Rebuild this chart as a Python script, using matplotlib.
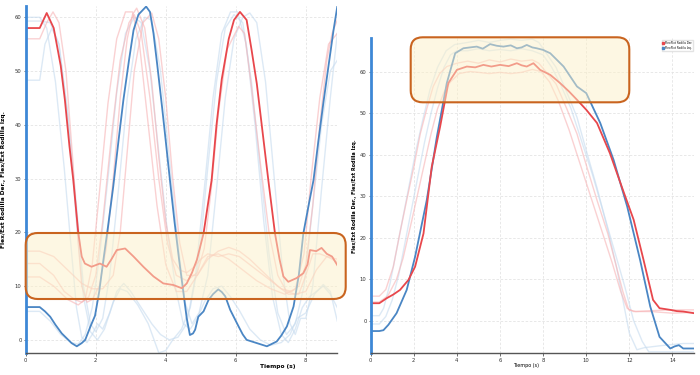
import matplotlib
matplotlib.use("Agg")
import matplotlib.pyplot as plt
from matplotlib.patches import FancyBboxPatch
from matplotlib.lines import Line2D

# ---------------- data: left chart ----------------
left_red_t = [0, 0.4, 0.6, 0.8, 1.0, 1.12, 1.25, 1.36, 1.5, 1.6, 1.69, 1.88, 2.12, 2.31, 2.45, 2.6, 2.84,
              3.08, 3.36, 3.65, 3.93, 4.22, 4.46, 4.6, 4.75, 4.89, 5.08, 5.2, 5.31, 5.45, 5.6, 5.8, 5.95,
              6.12, 6.31, 6.45, 6.6, 6.93, 7.12, 7.25, 7.36, 7.5, 7.74, 7.93, 8.05, 8.12, 8.3, 8.45, 8.6,
              8.75, 8.9]
left_red_v = [58, 58, 60.8, 58, 51, 44.6, 36, 29.7, 20, 15.5, 14.2, 13.6, 14.2, 13.6, 15, 16.7, 17.0,
              15.5, 13.6, 11.8, 10.5, 10.2, 9.6, 10.5, 12.5, 14.9, 19.8, 25, 29.7, 40, 48.5, 56, 59.5,
              61.0, 59.5, 54, 47.7, 29.7, 19.8, 15, 11.8, 10.8, 11.5, 12.4, 14, 16.7, 16.5, 17.1, 16.0,
              15.5, 13.9]

left_blue_t = [0, 0.4, 0.55, 0.7, 0.85, 1.03, 1.17, 1.31, 1.46, 1.6, 1.7, 1.85, 1.98, 2.1, 2.22, 2.35,
               2.5, 2.65, 2.79, 2.95, 3.08, 3.22, 3.44, 3.55, 3.65, 3.76, 3.9, 4.0, 4.12, 4.25, 4.38,
               4.5, 4.6, 4.69, 4.78, 4.84, 4.93, 5.08, 5.22, 5.35, 5.5, 5.6, 5.7, 5.84, 6.08, 6.2, 6.31,
               6.6, 6.89, 7.17, 7.3, 7.46, 7.65, 7.8, 7.93, 8.08, 8.22, 8.36, 8.5, 8.65, 8.79, 8.9]
left_blue_v = [6.1, 6.1, 5.3, 4.3, 2.8, 1.2, 0.3, -0.6, -1.2, -0.6, 0, 2.5, 4.5, 9, 14.9, 21,
               28.5, 37, 44.6, 52, 57.6, 60.5, 62, 61, 57, 51, 43, 37, 29.7, 22, 15,
               9, 4, 0.9, 1.2, 1.9, 4.3, 5.3, 7.4, 8.5, 9.4, 8.9, 8.1, 5.6, 2.5, 1, 0,
               -0.6, -1.2, -0.3, 0.8, 2.5, 6.2, 12, 19.8, 25, 29.7, 37, 44, 51, 57.5, 62]

left_faint_red_t = [
    [0, 0.4, 0.6, 0.78, 0.95, 1.15, 1.35, 1.5, 1.6, 1.75, 1.9, 2.1, 2.3, 2.5, 2.7, 2.9, 3.05, 3.17,
     3.4, 3.6, 3.8, 4.0, 4.2, 4.4, 4.6, 4.8, 5.0, 5.2, 5.5, 5.8, 6.1, 6.4, 6.7, 7.0, 7.3, 7.6, 7.8,
     8.0, 8.2, 8.4, 8.6, 8.75, 8.9],
    [0, 0.4, 0.8, 1.2, 1.6, 1.9, 2.2, 2.5, 2.7, 2.9, 3.1, 3.35, 3.6, 3.8, 4.0, 4.2, 4.4, 4.6, 4.9,
     5.2, 5.5, 5.8, 6.1, 6.4, 6.8, 7.2, 7.5, 7.8, 8.0, 8.2, 8.4, 8.6, 8.9],
    [0, 0.4, 0.8, 1.1, 1.4, 1.6, 1.8, 2.0, 2.2, 2.45, 2.7, 2.95, 3.1, 3.3, 3.55, 3.8, 4.05, 4.3,
     4.6, 4.9, 5.1, 5.3, 5.5, 5.75, 6.08, 6.25, 6.45, 6.7, 6.95, 7.2, 7.45, 7.7, 8.0, 8.3, 8.6, 8.9],
    [0, 0.4, 0.8, 1.2, 1.5, 1.7, 1.9, 2.1, 2.35, 2.6, 2.85, 3.05, 3.25, 3.5, 3.75, 4.0, 4.3, 4.6,
     4.9, 5.2, 5.5, 5.8, 6.2, 6.6, 7.0, 7.4, 7.7, 7.95, 8.15, 8.4, 8.65, 8.9],
]
left_faint_red_v = [
    [56, 56, 59, 61, 59, 50, 33, 18, 10, 7, 7.5, 10, 17, 30, 45, 56, 60.5, 61.7,
     58, 48, 34, 22, 15, 13, 12.5, 13.5, 15, 16, 15.5, 16, 15.5, 14, 12.5, 11, 9.5, 9, 10,
     14, 25, 40, 52, 57, 59.5],
    [16.5, 16.5, 15.5, 13, 10.5, 9.5, 9.5, 12, 20, 35, 50, 59, 60.8, 56, 45, 30, 18, 12, 12,
     15, 16.5, 17.2, 16.5, 15, 12.5, 10, 8.5, 8.5, 12, 16, 16, 15.5, 14.5],
    [14.2, 14.2, 12, 9, 7.5, 7, 8, 12, 22, 38, 52, 59, 60.5, 57, 45, 30, 18, 12,
     11, 12.5, 17, 28, 42, 54, 58.3, 57, 47, 33, 20, 12, 9, 8.5, 9, 13, 15.5, 15],
    [11.7, 11.7, 10, 7.5, 6.5, 7.5, 14, 27, 44, 56, 61, 61, 55, 40, 25, 14, 9, 9,
     12, 15.5, 16, 15, 13, 11, 9.5, 8.5, 9.5, 16, 30, 45, 55, 57],
]

left_faint_blue_t = [
    [0, 0.4, 0.6, 0.85, 1.1, 1.3, 1.45, 1.6, 1.75, 1.9, 2.05, 2.2, 2.4, 2.6, 2.8, 3.0, 3.3, 3.6,
     3.85, 4.1, 4.35, 4.6, 4.85, 5.1, 5.35, 5.6, 5.85, 6.05, 6.3, 6.55, 6.8, 7.05, 7.3, 7.5, 7.7,
     7.9, 8.1, 8.3, 8.5, 8.7, 8.9],
    [0, 0.4, 0.7, 0.95, 1.2, 1.45, 1.65, 1.85, 2.0, 2.2, 2.4, 2.65, 2.9, 3.15, 3.4, 3.6, 3.85, 4.1,
     4.35, 4.55, 4.75, 4.95, 5.2, 5.45, 5.7, 5.95, 6.2, 6.4, 6.6, 6.85, 7.1, 7.35, 7.55, 7.7, 7.85,
     8.0, 8.2, 8.45, 8.7, 8.9],
    [0, 0.4, 0.55, 0.75, 0.95, 1.2, 1.45, 1.65, 1.85, 2.05, 2.25, 2.5, 2.7, 2.9, 3.2, 3.5, 3.8, 4.0,
     4.2, 4.45, 4.7, 4.95, 5.2, 5.45, 5.7, 5.95, 6.2, 6.45, 6.7, 6.95, 7.2, 7.45, 7.7, 7.95, 8.2,
     8.45, 8.7, 8.9],
    [0, 0.4, 0.7, 1.0, 1.3, 1.5, 1.7, 1.9, 2.1, 2.35, 2.6, 2.85, 3.1, 3.3, 3.55, 3.8, 4.05, 4.3,
     4.5, 4.7, 4.9, 5.1, 5.35, 5.6, 5.85, 6.1, 6.4, 6.7, 7.0, 7.3, 7.55, 7.75, 8.0, 8.25, 8.5, 8.7,
     8.9],
]
left_faint_blue_v = [
    [60, 60, 58, 48, 32, 17, 6, 0.5, -0.5, 1, 3, 2, 5, 9, 10.5, 9, 6, 3,
     1, 0, 0.5, 3, 12, 28, 45, 57, 61, 61, 55, 40, 22, 8, 1, -0.5, 2,
     6, 8, 9, 10, 8.5, 6],
    [59.3, 59.3, 59, 55, 42, 25, 10, 3, 1.5, 4, 12, 28, 45, 56, 60, 59.5, 50, 34,
     18, 7, 3, 5, 12, 28, 45, 56, 60, 60.8, 59, 48, 30, 12, 3, 1, 4,
     4, 10, 28, 45, 57],
    [48.3, 48.3, 55, 58, 55, 42, 22, 8, 1.5, 0, 2, 7, 9.5, 9, 6.5, 3, -2.4, -2,
     0, 2, 6, 15, 32, 48, 58, 60.5, 59, 48, 32, 16, 5, 1, 3, 10, 25,
     40, 50, 52],
    [5.3, 5.3, 3.5, 1, -0.5, -0.8, 1, 6, 15, 30, 46, 57, 60, 59, 50, 35, 20, 9,
     3, 2, 4, 7, 9.5, 10, 8, 5.5, 2, 0, -1, -0.5, 1, 4, 5, 8.5, 10.3, 9,
     3.5],
]

# ---------------- data: right chart ----------------
right_red_t = [0, 0.4, 0.74, 1.05, 1.36, 1.75, 2.06, 2.45, 2.83, 3.22, 3.6, 4.0, 4.46, 4.85, 5.23,
               5.6, 6.0, 6.4, 6.78, 7.0, 7.24, 7.55, 7.86, 8.33, 8.79, 9.2, 9.57, 10.0, 10.5, 11.1,
               11.7, 12.2, 12.66, 13.1, 13.4, 13.9, 14.2, 14.5, 15.0]
right_red_v = [4.2, 4.2, 5.4, 6.3, 7.4, 9.8, 13.0, 21, 37, 46.7, 57.2, 60.4, 61.2, 61.0, 61.6,
               61.2, 61.6, 61.3, 62, 61.5, 61.2, 62, 60.4, 59.2, 57.2, 55.2, 53.2, 50.8, 47.6, 40.3,
               31.5, 24.3, 14.6, 5.0, 3.0, 2.6, 2.3, 2.2, 1.8]

right_blue_t = [0, 0.4, 0.59, 0.82, 1.2, 1.67, 2.06, 2.6, 3.07, 3.53, 3.92, 4.3, 4.6, 4.92, 5.2,
                5.54, 5.85, 6.16, 6.5, 6.78, 7.0, 7.24, 7.5, 7.7, 8.0, 8.33, 8.95, 9.57, 10.0, 10.65,
                11.27, 11.9, 12.5, 12.97, 13.4, 13.9, 14.1, 14.3, 14.5, 15.0]
right_blue_v = [-2.5, -2.5, -2.3, -1.0, 1.8, 7.4, 15.4, 29, 44.3, 57.2, 64.4, 65.6, 65.8, 66, 65.5,
                66.6, 66.2, 66, 66.3, 65.6, 65.8, 66.4, 65.8, 65.6, 65.2, 64.4, 61.2, 56.4, 54.8, 47.6,
                38.7, 27.5, 14.6, 3.4, -3.9, -6.7, -6.2, -5.9, -6.7, -6.7]

right_faint_red_t = [
    [0, 0.4, 0.7, 1.05, 1.35, 1.67, 2.0, 2.3, 2.6, 2.9, 3.2, 3.53, 4.0, 4.5, 5.0, 5.5, 6.0, 6.5,
     7.0, 7.5, 7.8, 8.2, 8.6, 9.1, 9.57, 10.0, 10.5, 11.0, 11.4, 11.7, 11.97, 12.3, 13.0, 14.0, 15.0],
    [0, 0.4, 0.8, 1.2, 1.5, 1.9, 2.2, 2.5, 2.8, 3.1, 3.4, 3.7, 4.1, 4.6, 5.0, 5.5, 6.0, 6.5,
     7.0, 7.5, 7.9, 8.3, 8.7, 9.2, 9.7, 10.2, 10.7, 11.2, 11.6, 11.9, 12.2, 13.0, 14.0, 15.0],
]
right_faint_red_v = [
    [5.9, 5.9, 7.5, 13, 21, 29, 37, 45, 51, 56.4, 59.5, 61.2, 62, 62.5, 62, 62.8, 62.3, 63,
     62.5, 62.8, 62, 59.5, 57, 51, 45, 37.5, 29, 21, 13, 7, 2.6, 2.2, 2.4, 2.6, 2.6],
    [4.5, 4.5, 6, 10, 15, 24, 31, 38, 45, 51, 55, 57.5, 59.5, 60, 59.8, 59.5, 59.8, 59.5,
     59.8, 60.5, 60, 57.5, 53, 46, 38, 30, 22, 14, 7, 3, 2.2, 2.2, 1.8, 2.0],
]

right_faint_blue_t = [
    [0, 0.4, 0.6, 0.9, 1.2, 1.5, 1.8, 2.1, 2.4, 2.75, 3.1, 3.5, 3.9, 4.5, 5.0, 5.5, 6.0, 6.5, 7.0,
     7.5, 7.8, 8.2, 8.6, 9.1, 9.57, 10.0, 10.5, 11.0, 11.4, 11.7, 12.0, 12.35, 12.7, 13.5, 14.5, 15.0],
    [0, 0.4, 0.7, 1.0, 1.3, 1.6, 1.9, 2.2, 2.5, 2.8, 3.1, 3.4, 3.7, 4.0, 4.5, 5.0, 5.5, 6.0, 6.5,
     7.0, 7.5, 8.0, 8.4, 8.8, 9.3, 9.8, 10.3, 10.8, 11.3, 11.8, 12.2, 12.6, 12.9, 13.5, 14.5, 15.0],
]
right_faint_blue_v = [
    [1.2, 1.2, 3, 9, 17, 25, 33, 41, 48, 55.6, 61, 65, 66.5, 67, 67.5, 67, 67.5, 67.8, 67.5,
     67.8, 67, 64, 61, 55, 49, 41, 32, 22, 13, 5, -3, -7, -6.5, -6, -5.5, -5.5],
    [-0.8, -0.8, 1, 5, 11, 19, 27, 35, 43, 50, 56, 61, 64, 65, 65, 65.5, 65, 65.3, 65,
     65.5, 65, 64, 61, 57, 51, 43, 35, 26, 17, 8, 0, -5, -7.5, -7.5, -7.5, -7.5],
]

left_xticks = [0, 2, 4, 6, 8]
left_yticks = [0, 10, 20, 30, 40, 50, 60]
right_xticks = [0, 2, 4, 6, 8, 10, 12, 14]
right_yticks = [0, 10, 20, 30, 40, 50, 60]
ylabel_text = "Flex/Ext Rodilla Der., Flex/Ext Rodilla Izq."
xlabel_text = "Tiempo (s)"
legend_labels = ["Flex/Ext Rodilla Der.", "Flex/Ext Rodilla Izq."]

# ---------------- styles ----------------
RED = "#e8474c"
BLUE = "#4a86c4"
FRED = "#f7b3b5"
FBLUE = "#c6dbef"
SPINE_BLUE = "#3d88d6"

W, H = 700, 375
fig = plt.figure(figsize=(W / 100, H / 100), dpi=100)
fig.patch.set_facecolor("white")


def px_axes(x0, x1, ytop, ybot):
    return fig.add_axes([x0 / W, (H - ybot) / H, (x1 - x0) / W, (ybot - ytop) / H])


def style(ax, xticks, yticks):
    ax.set_xticks(xticks)
    ax.set_yticks(yticks)
    ax.grid(True, color="#e4e4e4", lw=0.6, ls=(0, (3, 2)))
    ax.set_axisbelow(True)
    for s in ("top", "right"):
        ax.spines[s].set_visible(False)
    ax.spines["left"].set_color(SPINE_BLUE)
    ax.spines["left"].set_linewidth(2.0)
    ax.spines["bottom"].set_color("#555555")
    ax.spines["bottom"].set_linewidth(1.0)
    ax.tick_params(axis="both", labelsize=3.8, colors="#333333", length=2, width=0.5, pad=1.5)
    ax.tick_params(axis="y", length=1.5)


def rounded_box(x0, ytop, x1, ybot, r=12):
    xi, yi = x0 / 100, (H - ybot) / 100
    wi, hi = (x1 - x0) / 100, (ybot - ytop) / 100
    face = FancyBboxPatch((xi, yi), wi, hi, boxstyle=f"round,pad=0,rounding_size={r/100}",
                          transform=fig.dpi_scale_trans, facecolor="#fdf1c8", edgecolor="none",
                          alpha=0.5, zorder=10)
    edge = FancyBboxPatch((xi, yi), wi, hi, boxstyle=f"round,pad=0,rounding_size={r/100}",
                          transform=fig.dpi_scale_trans, facecolor="none", edgecolor="#c9641f",
                          lw=1.5, zorder=11)
    fig.patches.extend([face, edge])


# ---------------- left chart ----------------
axL = px_axes(25.7, 337.3, 6, 353.3)
for t, v in zip(left_faint_blue_t, left_faint_blue_v):
    axL.plot(t, v, color=FBLUE, lw=1.0, alpha=0.6)
for t, v in zip(left_faint_red_t, left_faint_red_v):
    axL.plot(t, v, color=FRED, lw=1.0, alpha=0.6)
axL.plot(left_blue_t, left_blue_v, color=BLUE, lw=1.3)
axL.plot(left_red_t, left_red_v, color=RED, lw=1.3)
axL.set_xlim(0, 8.9)
axL.set_ylim(-2.5, 62.1)
style(axL, left_xticks, left_yticks)
axL.set_ylabel(ylabel_text, fontsize=4.2, fontweight="bold")
axL.yaxis.set_label_coords(-0.063, 0.5)
axL.set_xlabel(xlabel_text, fontsize=4.2, fontweight="bold")
axL.xaxis.set_label_coords(0.81, -0.03)

# ---------------- right chart ----------------
axR = px_axes(370.7, 694, 38.3, 353.3)
for t, v in zip(right_faint_blue_t, right_faint_blue_v):
    axR.plot(t, v, color=FBLUE, lw=1.0, alpha=0.6)
for t, v in zip(right_faint_red_t, right_faint_red_v):
    axR.plot(t, v, color=FRED, lw=1.0, alpha=0.6)
axR.plot(right_blue_t, right_blue_v, color=BLUE, lw=1.3)
axR.plot(right_red_t, right_red_v, color=RED, lw=1.3)
axR.set_xlim(0, 15)
axR.set_ylim(-7.86, 68.0)
style(axR, right_xticks, right_yticks)
axR.set_ylabel(ylabel_text, fontsize=3.5, fontweight="bold")
axR.yaxis.set_label_coords(-0.042, 0.5)
axR.set_xlabel(xlabel_text, fontsize=3.5)
axR.xaxis.set_label_coords(0.48, -0.03)

handles = [Line2D([], [], marker="s", ls="none", color=RED, markersize=1.8),
           Line2D([], [], marker="s", ls="none", color=BLUE, markersize=1.8)]
fig.legend(handles, legend_labels, loc="upper right", bbox_to_anchor=(693 / W, 1 - 40 / H),
           fontsize=2.0, frameon=True, edgecolor="#dddddd", fancybox=False, handlelength=0.5,
           handletextpad=0.25, borderpad=0.35, labelspacing=0.25, borderaxespad=0)

rounded_box(25.7, 233, 345.7, 299, r=12)
rounded_box(410.7, 37.3, 629.3, 102.3, r=12)

fig.savefig("out.png", dpi=100)
